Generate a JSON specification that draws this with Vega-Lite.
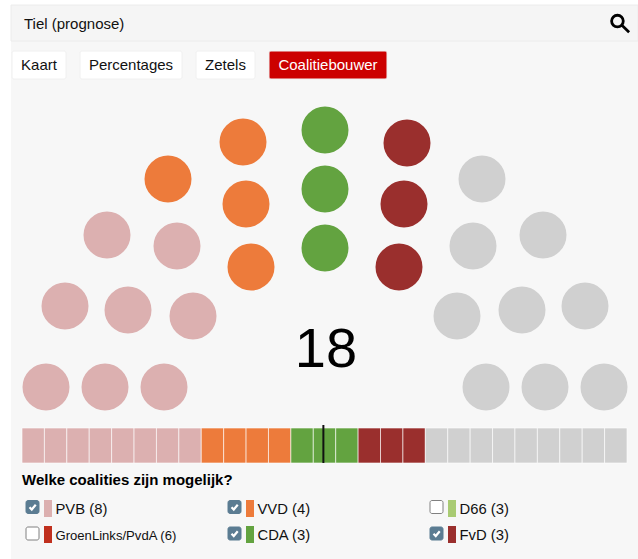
{
  "$schema": "https://vega.github.io/schema/vega-lite/v6.json",
  "width": 638,
  "height": 559,
  "padding": 0,
  "autosize": "none",
  "background": "#ffffff",
  "config": {"view": {"stroke": null}, "text": {"font": "Liberation Sans"}},
  "datasets": {
    "tabs": [
      {"label": "Kaart", "left": 12, "right": 66, "mid": 39, "active": false},
      {"label": "Percentages", "left": 80, "right": 182, "mid": 131, "active": false},
      {"label": "Zetels", "left": 196, "right": 255, "mid": 225.5, "active": false},
      {"label": "Coalitiebouwer", "left": 269, "right": 387, "mid": 328, "active": true}
    ],
    "seats": [
      {"party": "PVB", "selected": true, "sx": 46, "sy": 387},
      {"party": "PVB", "selected": true, "sx": 105, "sy": 387},
      {"party": "PVB", "selected": true, "sx": 164, "sy": 387},
      {"party": "PVB", "selected": true, "sx": 65, "sy": 306},
      {"party": "PVB", "selected": true, "sx": 128, "sy": 310},
      {"party": "PVB", "selected": true, "sx": 193, "sy": 316},
      {"party": "PVB", "selected": true, "sx": 107, "sy": 235},
      {"party": "PVB", "selected": true, "sx": 177, "sy": 246},
      {"party": "VVD", "selected": true, "sx": 168, "sy": 179},
      {"party": "VVD", "selected": true, "sx": 243, "sy": 142},
      {"party": "VVD", "selected": true, "sx": 246, "sy": 204},
      {"party": "VVD", "selected": true, "sx": 251, "sy": 267},
      {"party": "CDA", "selected": true, "sx": 325, "sy": 130},
      {"party": "CDA", "selected": true, "sx": 325, "sy": 189},
      {"party": "CDA", "selected": true, "sx": 325, "sy": 248},
      {"party": "FvD", "selected": true, "sx": 407, "sy": 143},
      {"party": "FvD", "selected": true, "sx": 404, "sy": 204},
      {"party": "FvD", "selected": true, "sx": 399, "sy": 267},
      {"party": "D66", "selected": false, "sx": 482, "sy": 179},
      {"party": "D66", "selected": false, "sx": 473, "sy": 246},
      {"party": "D66", "selected": false, "sx": 543, "sy": 235},
      {"party": "GroenLinks/PvdA", "selected": false, "sx": 457, "sy": 316},
      {"party": "GroenLinks/PvdA", "selected": false, "sx": 522, "sy": 310},
      {"party": "GroenLinks/PvdA", "selected": false, "sx": 585, "sy": 306},
      {"party": "GroenLinks/PvdA", "selected": false, "sx": 486, "sy": 387},
      {"party": "GroenLinks/PvdA", "selected": false, "sx": 545, "sy": 387},
      {"party": "GroenLinks/PvdA", "selected": false, "sx": 604, "sy": 387}
    ],
    "strip": [
      {"seat": 0, "seatEnd": 1, "party": "PVB", "selected": true},
      {"seat": 1, "seatEnd": 2, "party": "PVB", "selected": true},
      {"seat": 2, "seatEnd": 3, "party": "PVB", "selected": true},
      {"seat": 3, "seatEnd": 4, "party": "PVB", "selected": true},
      {"seat": 4, "seatEnd": 5, "party": "PVB", "selected": true},
      {"seat": 5, "seatEnd": 6, "party": "PVB", "selected": true},
      {"seat": 6, "seatEnd": 7, "party": "PVB", "selected": true},
      {"seat": 7, "seatEnd": 8, "party": "PVB", "selected": true},
      {"seat": 8, "seatEnd": 9, "party": "VVD", "selected": true},
      {"seat": 9, "seatEnd": 10, "party": "VVD", "selected": true},
      {"seat": 10, "seatEnd": 11, "party": "VVD", "selected": true},
      {"seat": 11, "seatEnd": 12, "party": "VVD", "selected": true},
      {"seat": 12, "seatEnd": 13, "party": "CDA", "selected": true},
      {"seat": 13, "seatEnd": 14, "party": "CDA", "selected": true},
      {"seat": 14, "seatEnd": 15, "party": "CDA", "selected": true},
      {"seat": 15, "seatEnd": 16, "party": "FvD", "selected": true},
      {"seat": 16, "seatEnd": 17, "party": "FvD", "selected": true},
      {"seat": 17, "seatEnd": 18, "party": "FvD", "selected": true},
      {"seat": 18, "seatEnd": 19, "party": "D66", "selected": false},
      {"seat": 19, "seatEnd": 20, "party": "D66", "selected": false},
      {"seat": 20, "seatEnd": 21, "party": "D66", "selected": false},
      {"seat": 21, "seatEnd": 22, "party": "GroenLinks/PvdA", "selected": false},
      {"seat": 22, "seatEnd": 23, "party": "GroenLinks/PvdA", "selected": false},
      {"seat": 23, "seatEnd": 24, "party": "GroenLinks/PvdA", "selected": false},
      {"seat": 24, "seatEnd": 25, "party": "GroenLinks/PvdA", "selected": false},
      {"seat": 25, "seatEnd": 26, "party": "GroenLinks/PvdA", "selected": false},
      {"seat": 26, "seatEnd": 27, "party": "GroenLinks/PvdA", "selected": false}
    ],
    "legend": [
      {"party": "PVB", "label": "PVB (8)", "col": 0, "row": 0, "checked": true},
      {"party": "VVD", "label": "VVD (4)", "col": 1, "row": 0, "checked": true},
      {"party": "D66", "label": "D66 (3)", "col": 2, "row": 0, "checked": false},
      {"party": "GroenLinks/PvdA", "label": "GroenLinks/PvdA (6)", "col": 0, "row": 1, "checked": false},
      {"party": "CDA", "label": "CDA (3)", "col": 1, "row": 1, "checked": true},
      {"party": "FvD", "label": "FvD (3)", "col": 2, "row": 1, "checked": true}
    ]
  },
  "resolve": {"scale": {"x": "independent", "y": "independent"}},
  "layer": [
    {
      "data": {"values": [{"left": 11, "right": 638, "top": 5, "bottom": 559}]},
      "mark": {"type": "rect", "fill": "#f7f7f7"},
      "encoding": {
        "x": {"field": "left", "type": "quantitative", "axis": null, "scale": {"domain": [0, 638]}},
        "x2": {"field": "right"},
        "y": {"field": "top", "type": "quantitative", "axis": null, "scale": {"domain": [559, 0]}},
        "y2": {"field": "bottom"}
      }
    },
    {
      "data": {"values": [{"left": 11, "right": 638, "top": 5, "bottom": 41}]},
      "mark": {"type": "rect", "fill": "#f5f5f5", "stroke": "#ececec", "strokeWidth": 1},
      "encoding": {
        "x": {"field": "left", "type": "quantitative", "axis": null, "scale": {"domain": [0, 638]}},
        "x2": {"field": "right"},
        "y": {"field": "top", "type": "quantitative", "axis": null, "scale": {"domain": [559, 0]}},
        "y2": {"field": "bottom"}
      }
    },
    {
      "data": {"values": [{"title": "Tiel (prognose)"}]},
      "mark": {"type": "text", "align": "left", "baseline": "middle", "fontSize": 15, "color": "#111111"},
      "encoding": {
        "x": {"datum": 24, "type": "quantitative", "axis": null, "scale": {"domain": [0, 638]}},
        "y": {"datum": 24, "type": "quantitative", "axis": null, "scale": {"domain": [559, 0]}},
        "text": {"field": "title"}
      }
    },
    {
      "data": {"values": [{"icon": "zoeken"}]},
      "mark": {"type": "point", "shape": "M-0.1,-0.45 A0.55,0.55 0 1 1 -0.1,0.65 A0.55,0.55 0 1 1 -0.1,-0.45 M0.32,0.5 L1,1.15", "filled": false, "stroke": "#000000", "strokeWidth": 2.8, "size": 450, "opacity": 1},
      "encoding": {
        "x": {"datum": 618.5, "type": "quantitative", "axis": null, "scale": {"domain": [0, 638]}},
        "y": {"datum": 20, "type": "quantitative", "axis": null, "scale": {"domain": [559, 0]}}
      }
    },
    {
      "data": {"name": "tabs"},
      "mark": {"type": "rect", "cornerRadius": 2, "stroke": "#f0f0f0", "strokeWidth": 1},
      "encoding": {
        "x": {"field": "left", "type": "quantitative", "axis": null, "scale": {"domain": [0, 638]}},
        "x2": {"field": "right"},
        "y": {"datum": 51, "type": "quantitative", "axis": null, "scale": {"domain": [559, 0]}},
        "y2": {"datum": 79},
        "fill": {"condition": {"test": "datum.active", "value": "#cc0000"}, "value": "#ffffff"}
      }
    },
    {
      "data": {"name": "tabs"},
      "mark": {"type": "text", "align": "center", "baseline": "middle", "fontSize": 15},
      "encoding": {
        "x": {"field": "mid", "type": "quantitative", "axis": null, "scale": {"domain": [0, 638]}},
        "y": {"datum": 65, "type": "quantitative", "axis": null, "scale": {"domain": [559, 0]}},
        "text": {"field": "label"},
        "color": {"condition": {"test": "datum.active", "value": "#ffffff"}, "value": "#111111"}
      }
    },
    {
      "data": {"name": "seats"},
      "mark": {"type": "circle", "size": 2209, "opacity": 1},
      "encoding": {
        "x": {"field": "sx", "type": "quantitative", "axis": null, "scale": {"domain": [0, 638]}},
        "y": {"field": "sy", "type": "quantitative", "axis": null, "scale": {"domain": [559, 0]}},
        "color": {
          "condition": {"test": "datum.selected", "field": "party", "type": "nominal", "legend": null, "scale": {"domain": ["PVB", "VVD", "CDA", "FvD", "D66", "GroenLinks/PvdA"], "range": ["#dcb0b0", "#ed7b3b", "#63a340", "#9a2f2d", "#a9cb73", "#c0301e"]}},
          "value": "#d0d0d0"
        }
      }
    },
    {
      "data": {"values": [{"seats": 18}]},
      "mark": {"type": "text", "align": "center", "baseline": "alphabetic", "fontSize": 56, "color": "#000000"},
      "encoding": {
        "x": {"datum": 326, "type": "quantitative", "axis": null, "scale": {"domain": [0, 638]}},
        "y": {"datum": 367, "type": "quantitative", "axis": null, "scale": {"domain": [559, 0]}},
        "text": {"field": "seats"}
      }
    },
    {
      "data": {"name": "strip"},
      "mark": {"type": "rect", "stroke": "#ffffff", "strokeOpacity": 0.6, "strokeWidth": 1},
      "encoding": {
        "x": {"field": "seat", "type": "quantitative", "axis": null, "scale": {"domain": [0, 27], "range": [22, 627]}},
        "x2": {"field": "seatEnd"},
        "y": {"datum": 428, "type": "quantitative", "axis": null, "scale": {"domain": [559, 0]}},
        "y2": {"datum": 463},
        "color": {
          "condition": {"test": "datum.selected", "field": "party", "type": "nominal", "legend": null},
          "value": "#d0d0d0"
        }
      }
    },
    {
      "data": {"values": [{"majority": 13.45}]},
      "mark": {"type": "rule", "color": "#111111", "strokeWidth": 2},
      "encoding": {
        "x": {"field": "majority", "type": "quantitative", "axis": null, "scale": {"domain": [0, 27], "range": [22, 627]}},
        "y": {"datum": 425, "type": "quantitative", "axis": null, "scale": {"domain": [559, 0]}},
        "y2": {"datum": 463}
      }
    },
    {
      "data": {"values": [{"question": "Welke coalities zijn mogelijk?"}]},
      "mark": {"type": "text", "align": "left", "baseline": "middle", "fontSize": 15, "fontWeight": "bold", "color": "#000000"},
      "encoding": {
        "x": {"datum": 22, "type": "quantitative", "axis": null, "scale": {"domain": [0, 638]}},
        "y": {"datum": 480, "type": "quantitative", "axis": null, "scale": {"domain": [559, 0]}},
        "text": {"field": "question"}
      }
    },
    {
      "data": {"name": "legend"},
      "mark": {"type": "rect", "width": 13, "height": 13, "cornerRadius": 2, "strokeWidth": 1},
      "encoding": {
        "x": {"field": "col", "type": "quantitative", "axis": null, "scale": {"domain": [0, 2], "range": [32.5, 436.5]}},
        "y": {"field": "row", "type": "quantitative", "axis": null, "scale": {"domain": [0, 1], "range": [507, 533.5]}},
        "fill": {"condition": {"test": "datum.checked", "value": "#5b7c92"}, "value": "#ffffff"},
        "stroke": {"condition": {"test": "datum.checked", "value": "#5b7c92"}, "value": "#808080"}
      }
    },
    {
      "data": {"name": "legend"},
      "transform": [{"filter": "datum.checked"}],
      "mark": {"type": "point", "shape": "M-0.6,0.05 L-0.15,0.5 L0.65,-0.45", "filled": false, "stroke": "#ffffff", "strokeWidth": 2.2, "size": 100, "opacity": 1},
      "encoding": {
        "x": {"field": "col", "type": "quantitative", "axis": null, "scale": {"domain": [0, 2], "range": [32.5, 436.5]}},
        "y": {"field": "row", "type": "quantitative", "axis": null, "scale": {"domain": [0, 1], "range": [507, 533.5]}}
      }
    },
    {
      "data": {"name": "legend"},
      "mark": {"type": "rect", "width": 8, "height": 17},
      "encoding": {
        "x": {"field": "col", "type": "quantitative", "axis": null, "scale": {"domain": [0, 2], "range": [48, 452]}},
        "y": {"field": "row", "type": "quantitative", "axis": null, "scale": {"domain": [0, 1], "range": [508.5, 534.5]}},
        "color": {"field": "party", "type": "nominal", "legend": null}
      }
    },
    {
      "data": {"name": "legend"},
      "mark": {"type": "text", "align": "left", "baseline": "middle", "color": "#111111"},
      "encoding": {
        "x": {"field": "col", "type": "quantitative", "axis": null, "scale": {"domain": [0, 2], "range": [55.5, 459.5]}},
        "y": {"field": "row", "type": "quantitative", "axis": null, "scale": {"domain": [0, 1], "range": [510, 536]}},
        "text": {"field": "label"},
        "size": {"condition": {"test": "datum.party === 'GroenLinks/PvdA'", "value": 13.1}, "value": 14.8}
      }
    }
  ]
}
